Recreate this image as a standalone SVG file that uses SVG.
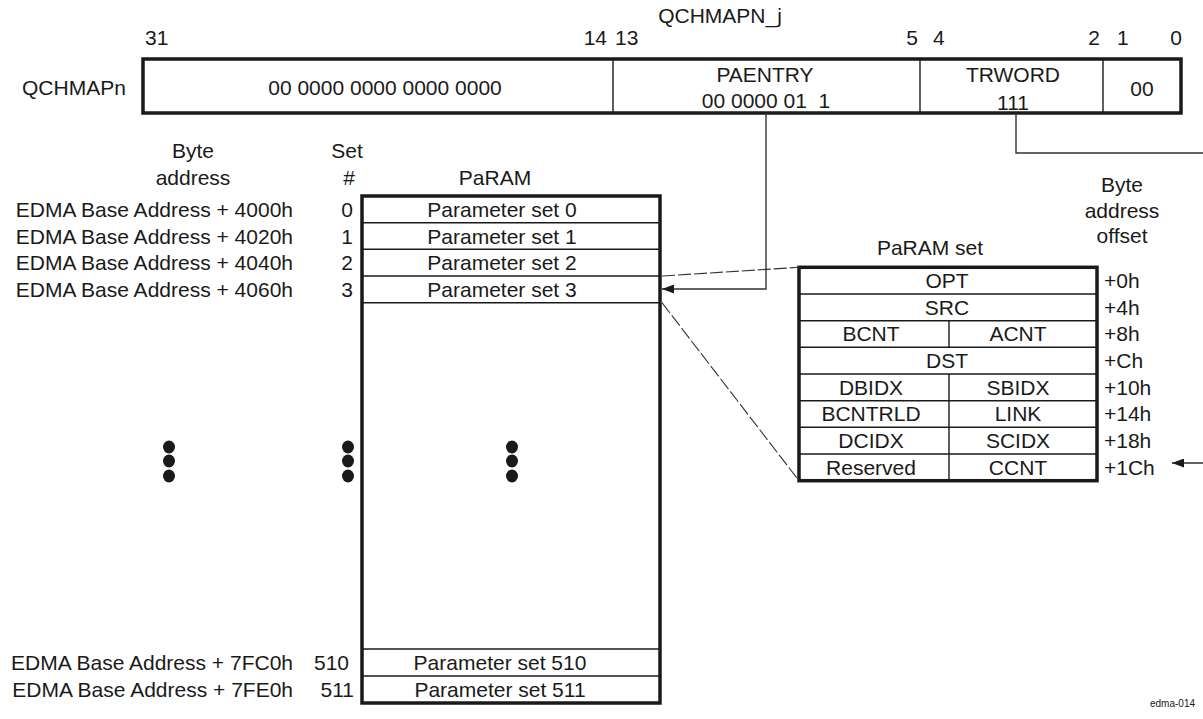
<svg xmlns="http://www.w3.org/2000/svg" width="1203" height="719" viewBox="0 0 1203 719">
<style>
text{font-family:"Liberation Sans",Arial,sans-serif;font-size:21px;fill:#1a1a1a}
.m{text-anchor:middle}
.e{text-anchor:end}
.pre{white-space:pre}
.thick{fill:none;stroke:#1a1a1a;stroke-width:3.5}
.thin{fill:none;stroke:#1a1a1a;stroke-width:1.4}
.conn{fill:none;stroke:#333;stroke-width:1.4}
.dash{fill:none;stroke:#333;stroke-width:1.1;stroke-dasharray:13 3}
.small{font-size:10px}
</style>
<defs>
<marker id="arr" markerWidth="12" markerHeight="9" refX="12" refY="4.5" orient="auto" markerUnits="userSpaceOnUse">
<path d="M0,0 L12,4.5 L0,9 Z" fill="#1a1a1a"/>
</marker>
</defs>

<g id="register">
<text x="720" y="23" class="m">QCHMAPN_j</text>
<text x="145" y="45">31</text>
<text x="607" y="45" class="e">14</text>
<text x="615" y="45">13</text>
<text x="918" y="45" class="e">5</text>
<text x="933" y="45">4</text>
<text x="1100" y="45" class="e">2</text>
<text x="1117" y="45">1</text>
<text x="1182" y="45" class="e">0</text>
<text x="22" y="95">QCHMAPn</text>
<rect x="143" y="59" width="1038" height="54" class="thick"/>
<line x1="613" y1="59" x2="613" y2="113" class="thin"/>
<line x1="920" y1="59" x2="920" y2="113" class="thin"/>
<line x1="1103" y1="59" x2="1103" y2="113" class="thin"/>
<text x="385" y="95" class="m">00 0000 0000 0000 0000</text>
<text x="765" y="82" class="m">PAENTRY</text>
<text x="766" y="108" class="m pre">00 0000 01  1</text>
<text x="1013" y="82" class="m">TRWORD</text>
<text x="1013" y="110" class="m">111</text>
<text x="1142" y="96" class="m">00</text>
</g>

<g id="headings">
<text x="193" y="158" class="m">Byte</text>
<text x="193" y="185" class="m">address</text>
<text x="347" y="158" class="m">Set</text>
<text x="349" y="185" class="m">#</text>
<text x="495" y="185" class="m">PaRAM</text>
</g>

<g id="addresses">
<text x="293" y="217" class="e">EDMA Base Address + 4000h</text>
<text x="293" y="244" class="e">EDMA Base Address + 4020h</text>
<text x="293" y="270" class="e">EDMA Base Address + 4040h</text>
<text x="293" y="297" class="e">EDMA Base Address + 4060h</text>
<text x="293" y="670" class="e">EDMA Base Address + 7FC0h</text>
<text x="293" y="697" class="e">EDMA Base Address + 7FE0h</text>
<text x="353" y="217" class="e">0</text>
<text x="353" y="244" class="e">1</text>
<text x="353" y="270" class="e">2</text>
<text x="353" y="297" class="e">3</text>
<text x="349" y="670" class="e">510</text>
<text x="354" y="697" class="e">511</text>
</g>

<g id="dots">
<ellipse cx="169" cy="447" rx="6" ry="6.5" fill="#1a1a1a"/>
<ellipse cx="169" cy="461" rx="6" ry="6.5" fill="#1a1a1a"/>
<ellipse cx="169" cy="476" rx="6" ry="6.5" fill="#1a1a1a"/>
<ellipse cx="348" cy="447" rx="6" ry="6.5" fill="#1a1a1a"/>
<ellipse cx="348" cy="461" rx="6" ry="6.5" fill="#1a1a1a"/>
<ellipse cx="348" cy="476" rx="6" ry="6.5" fill="#1a1a1a"/>
<ellipse cx="512" cy="447" rx="6" ry="6.5" fill="#1a1a1a"/>
<ellipse cx="512" cy="461" rx="6" ry="6.5" fill="#1a1a1a"/>
<ellipse cx="512" cy="476" rx="6" ry="6.5" fill="#1a1a1a"/>
</g>

<g id="param">
<rect x="362" y="196" width="298" height="507" class="thick"/>
<line x1="362" y1="222.7" x2="660" y2="222.7" class="thin"/>
<line x1="362" y1="249.3" x2="660" y2="249.3" class="thin"/>
<line x1="362" y1="276" x2="660" y2="276" class="thin"/>
<line x1="362" y1="302.7" x2="660" y2="302.7" class="thin"/>
<line x1="362" y1="649" x2="660" y2="649" class="thin"/>
<line x1="362" y1="676" x2="660" y2="676" class="thin"/>
<text x="502" y="217" class="m">Parameter set 0</text>
<text x="502" y="244" class="m">Parameter set 1</text>
<text x="502" y="270" class="m">Parameter set 2</text>
<text x="502" y="297" class="m">Parameter set 3</text>
<text x="500" y="670" class="m">Parameter set 510</text>
<text x="500" y="697" class="m">Parameter set 511</text>
</g>

<g id="paramset">
<text x="930" y="255" class="m">PaRAM set</text>
<text x="1122" y="192" class="m">Byte</text>
<text x="1122" y="218" class="m">address</text>
<text x="1122" y="243" class="m">offset</text>
<rect x="799" y="267.3" width="298" height="213.4" class="thick"/>
<line x1="799" y1="294" x2="1097" y2="294" class="thin"/>
<line x1="799" y1="320.7" x2="1097" y2="320.7" class="thin"/>
<line x1="799" y1="347.3" x2="1097" y2="347.3" class="thin"/>
<line x1="799" y1="374" x2="1097" y2="374" class="thin"/>
<line x1="799" y1="400.7" x2="1097" y2="400.7" class="thin"/>
<line x1="799" y1="427.3" x2="1097" y2="427.3" class="thin"/>
<line x1="799" y1="454" x2="1097" y2="454" class="thin"/>
<line x1="949" y1="320.7" x2="949" y2="347.3" class="thin"/>
<line x1="949" y1="374" x2="949" y2="480.7" class="thin"/>
<text x="947" y="288" class="m">OPT</text>
<text x="947" y="315" class="m">SRC</text>
<text x="871" y="341" class="m">BCNT</text>
<text x="1018" y="341" class="m">ACNT</text>
<text x="947" y="368" class="m">DST</text>
<text x="871" y="395" class="m">DBIDX</text>
<text x="1018" y="395" class="m">SBIDX</text>
<text x="871" y="421" class="m">BCNTRLD</text>
<text x="1018" y="421" class="m">LINK</text>
<text x="871" y="448" class="m">DCIDX</text>
<text x="1018" y="448" class="m">SCIDX</text>
<text x="871" y="475" class="m">Reserved</text>
<text x="1018" y="475" class="m">CCNT</text>
<text x="1104" y="288">+0h</text>
<text x="1104" y="315">+4h</text>
<text x="1104" y="341">+8h</text>
<text x="1104" y="368">+Ch</text>
<text x="1104" y="395">+10h</text>
<text x="1104" y="421">+14h</text>
<text x="1104" y="448">+18h</text>
<text x="1104" y="475">+1Ch</text>
</g>

<g id="connectors">
<path d="M766,113 V289 H662" class="conn" marker-end="url(#arr)"/>
<path d="M1016,113 V153 H1215 V463 H1172" class="conn" marker-end="url(#arr)"/>
<path d="M662,276 L799,267.3" class="dash"/>
<path d="M662,302.7 L799,480.7" class="dash"/>
</g>

<text x="1195" y="707" class="e small">edma-014</text>
</svg>
